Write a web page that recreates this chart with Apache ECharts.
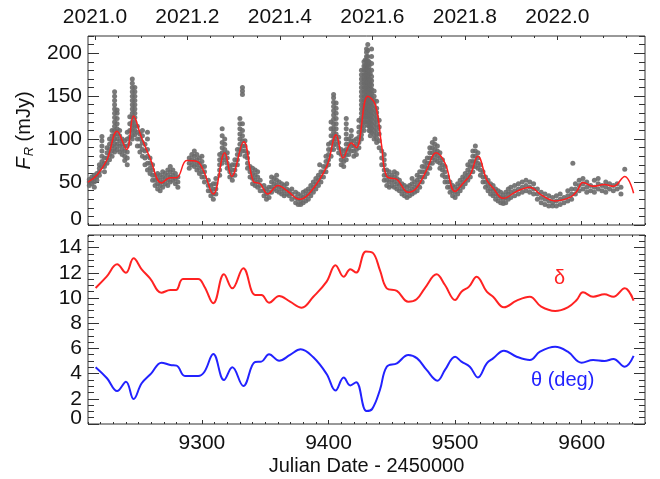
<!DOCTYPE html>
<html><head><meta charset="utf-8">
<script src="https://cdn.jsdelivr.net/npm/echarts@6/dist/echarts.min.js"></script>
<style>html,body{margin:0;padding:0;background:#fff}#c{width:660px;height:479px}</style>
</head><body><div id="c"></div>
<script>
// ---- axes ----
const jdMin = 9210, jdMax = 9650;
const jdTicks = [9300, 9400, 9500, 9600];
const jdTickLabels = ['9300', '9400', '9500', '9600'];
const yearTicks = [2021.0, 2021.2, 2021.4, 2021.6, 2021.8, 2022.0];
const yearTickLabels = ['2021.0', '2021.2', '2021.4', '2021.6', '2021.8', '2022.0'];
const fluxTicks = [0, 50, 100, 150, 200];
const fluxMax = 220;
const polTicks = [0, 2, 4, 6, 8, 10, 12, 14];
const polMax = 15;

// ---- observed R-band flux (JD-2450000, list of F_R in mJy) ----
const obsNights = [
  [9211,[46,50,53]],[9213,[48,52,56]],[9215,[44,50,55,58]],[9217,[52,56,60]],
  [9219,[58,62,66,70]],[9221,[68,74,80,86,92,98,103]],[9223,[62,68,72,78]],
  [9225,[72,78,84,90]],[9227,[76,82,88,94,100]],[9229,[80,86,92,98,104,110]],
  [9231,[85,90,95,100,105,110,115,120,125,130,135,140,145,150,155]],
  [9233,[88,94,100,106,112,118,124,130,134]],[9235,[85,92,98,104,110]],
  [9237,[82,88,94,100]],[9239,[75,80,86,92,98]],[9241,[70,78,85,92,100,108]],
  [9243,[95,102,110,118,126]],
  [9245,[100,105,110,115,120,125,130,135,140,145,150,155,160,165,170]],
  [9247,[105,110,115,120,125,130,135,140,145,150,155,160]],
  [9249,[92,100,108,115]],[9251,[85,92,100,106]],[9253,[80,88,96,104,110]],
  [9255,[70,78,86,94]],[9257,[64,72,80,88,100,108]],[9259,[60,66,72,78]],
  [9261,[52,58,64,70]],[9263,[46,52,58]],[9265,[42,48,54,60]],[9267,[40,46,52,58]],
  [9269,[44,50,56,62]],[9271,[48,54,60]],[9273,[46,52,58,64]],[9275,[50,56,62,68]],
  [9277,[52,58,64]],[9279,[48,54,60]],[9281,[44,50,56]],
  [9290,[66,72,78]],[9292,[70,76,82]],[9294,[68,74,80,86]],[9296,[64,70,76,82]],
  [9298,[60,66,72,78]],[9300,[56,62,68,74,80]],[9302,[50,56,62,68]],
  [9305,[40,46,52]],[9307,[34,40,46]],[9309,[30,36,42,48]],[9311,[36,42,48,54]],
  [9314,[58,64,70,76,82]],[9316,[72,78,84,90,96,104,112]],[9318,[76,82,88,94,100]],
  [9320,[66,72,78,84]],[9322,[56,62,68]],[9324,[52,58,64,70]],[9326,[58,64,70,76]],
  [9328,[70,76,82,88]],[9330,[82,88,94,100,106,112,118,124]],
  [9332,[86,92,98,104,110,118,152,156,160]],[9334,[80,86,92,98]],
  [9336,[66,72,78,84]],[9338,[56,62,68]],[9340,[48,54,60,66]],[9342,[46,52,58,64]],
  [9344,[44,50,56,62]],[9346,[40,46,52]],[9349,[34,40,46]],[9351,[30,36,42]],
  [9353,[32,38,44]],[9355,[38,44,50,56]],[9357,[42,48,54]],[9359,[40,46,52,58]],
  [9361,[38,44,50]],[9363,[36,42,48]],[9365,[34,40,46]],[9367,[36,42,48]],
  [9369,[34,40]],[9371,[30,36,42]],[9374,[26,32,38]],[9376,[24,30,36]],
  [9378,[24,28,34]],[9380,[26,32,38]],[9382,[28,34,40]],[9384,[30,36,42]],
  [9386,[34,40,46]],[9388,[38,44,50]],[9390,[42,48,54]],[9392,[46,52,58]],
  [9393,[70]],[9394,[50,56,62]],[9396,[56,62,68]],[9398,[62,68,74,80]],
  [9400,[70,76,82,88,94]],[9402,[80,88,96,104,112,120]],
  [9404,[88,93,98,103,108,113,118,123,128,133,138,143,148,152]],
  [9406,[94,100,106,112,118,124,130,136,142]],[9408,[84,90,96,102]],
  [9410,[70,76,82,88]],[9412,[68,74,80,86]],[9414,[76,82,88,94,100,106,112,118,124]],
  [9416,[82,88,94,100]],[9418,[86,92,98,104,110]],[9420,[80,86,92,98]],
  [9422,[82,88,94,100]],[9424,[90,96,102,108,114,122]],
  [9426,[100,105,110,115,120,125,130,135,140,145,150,155,160,165,170,175,180]],
  [9428,[110,115,120,125,130,135,140,145,150,155,160,165,170,175,180,185,190]],
  [9429,[120,125,130,135,140,145,150,155,160,165,170,175,180,185,192]],
  [9430,[126,131,136,141,146,151,156,161,166,171,176,181,186,191,196,201,205]],
  [9431,[116,121,126,131,136,141,146,151,156,161,166,171,176,181,186,191,196,203,210]],
  [9432,[110,115,120,125,130,135,140,145,150,155,160,165,170,175,180,185,190]],
  [9433,[104,109,114,119,124,129,134,139,144,149,154,159,164,169,176]],
  [9434,[108,113,118,123,128,133,138,143,148,153,158,163,168,173,180,188,196,205]],
  [9436,[100,105,110,115,120,125,130,135,140,145,150,156]],
  [9438,[96,101,106,111,116,121,126,131,136,144]],[9440,[90,98,106,114,122]],
  [9442,[70,78,86]],[9444,[52,58,64,70,76,82]],[9446,[46,52,58,64]],
  [9448,[44,50,56,62]],[9450,[46,52,58]],[9452,[44,50,56,62]],[9454,[42,48,54,60]],
  [9456,[40,46,52]],[9458,[36,42,48]],[9460,[34,40,46]],[9462,[32,38,44]],
  [9464,[34,40,46]],[9466,[36,42,48,54]],[9468,[38,44,50]],[9470,[40,46,52,58]],
  [9472,[44,50,56,62]],[9474,[50,56,62,68]],[9476,[56,62,68,74]],[9478,[60,66,72,78]],
  [9480,[66,72,78,84,90]],[9482,[72,78,84,90,96]],[9484,[76,82,88,94,100]],
  [9486,[74,80,86,92]],[9488,[66,72,78,84]],[9490,[58,64,70,76]],[9492,[50,56,62,68]],
  [9494,[44,50,56]],[9496,[38,44,50]],[9498,[34,40,46]],[9500,[32,38,44]],
  [9502,[36,42,48]],[9504,[40,46,52]],[9506,[44,50,56]],[9508,[48,54,60]],
  [9510,[52,58,64,70]],[9512,[56,62,68,74]],[9514,[62,68,74,80,86]],
  [9516,[68,74,80,86,92]],[9518,[66,72,78,84]],[9520,[58,64,70]],[9522,[50,56,62]],
  [9524,[44,50,56]],[9526,[40,46,52]],[9528,[36,42,48]],[9530,[34,40,46]],
  [9532,[30,36,42]],[9534,[28,34,40]],[9536,[26,32,38]],[9538,[25,30,35]],
  [9540,[26,32,38]],[9542,[30,36,42]],[9544,[32,38,44]],[9547,[34,40,46]],
  [9550,[36,42,48]],[9553,[38,44,50]],[9556,[40,46,52]],[9559,[38,44,50]],
  [9562,[36,42,48]],[9565,[30,36,42]],[9568,[26,32,38]],[9571,[24,30,36]],
  [9574,[22,28,34]],[9577,[22,26,32]],[9580,[22,28,34]],[9583,[24,30,36]],
  [9586,[26,32]],[9589,[28,34,40]],[9592,[30,36,42]],[9593,[72]],[9595,[36,42,48]],
  [9598,[40,46,52]],[9601,[42,48,54]],[9604,[38,44,50]],[9607,[40,46]],
  [9610,[38,44,52]],[9613,[42,48,54]],[9616,[40,46]],[9619,[38,44,50]],
  [9622,[42,48]],[9625,[40,46]],[9628,[42,48]],[9631,[36,44]],[9634,[65]]
];

// ---- smoothed flux curve (red) ----
const fitCurve = [
  [9210,50],[9217,58],[9225,76],[9233,109],[9240.5,88],[9246,127],[9252,103],[9259,78],
  [9268,49],[9275,55],[9280,55],[9288,75],[9296,74],[9301,64],[9309,36],[9318,84],
  [9323.5,56.5],[9333,97],[9340.5,51],[9346,48],[9352,36],[9360,46],[9368,39],[9377,30],
  [9385,37],[9398.5,68],[9406,105],[9411.5,78],[9418,95.5],[9422,90],[9431,150],[9437,140],
  [9442,92],[9446,56.5],[9454,53],[9463,38],[9469.5,43],[9477.5,64],[9485,84],[9492,72],
  [9500,39],[9506.5,49],[9512,58.5],[9518,80],[9525,52.6],[9530,43],[9538,31],[9548.5,39],
  [9559,44],[9568,35],[9579,28],[9591,32.4],[9596,39],[9601,49.5],[9609,45],[9618,47],
  [9625,45],[9634,56.5],[9641,37]
];

// ---- delta (red) and theta in deg (blue) ----
const deltaCurve = [
  [9216,10.8],[9224.7,11.7],[9233,12.67],[9240,12.0],[9246,13.15],[9252.4,12.28],[9259,11.56],
  [9268,10.42],[9275,10.63],[9279.5,10.63],[9285,11.5],[9297,11.5],[9302,10.9],[9309,9.58],
  [9317.4,11.88],[9324,10.77],[9332.7,12.36],[9342,10.24],[9347,10.24],[9353,9.63],[9361,10.16],
  [9369.6,9.71],[9378.8,9.23],[9388,10.1],[9398.5,11.3],[9405.5,12.6],[9412,11.68],[9417.2,12.28],
  [9421.8,12.02],[9429.5,13.7],[9435,13.58],[9440.6,12.22],[9446,10.77],[9454,10.56],[9463,9.71],
  [9469.6,9.9],[9476,10.77],[9485.4,11.88],[9492,11.03],[9500,9.84],[9505,10.5],[9511,10.9],
  [9517,11.69],[9525,10.5],[9530,10.1],[9538.6,9.26],[9548.6,9.79],[9559,10.1],[9568,9.31],
  [9579,8.97],[9589,9.26],[9596,9.84],[9601,10.45],[9609,10.1],[9618,10.29],[9625,10.1],
  [9634,10.77],[9641,9.79]
];
const thetaCurve = [
  [9216,4.5],[9225,3.63],[9233,2.62],[9240,3.36],[9246,1.98],[9252.4,3.23],[9260,4.02],
  [9268,4.87],[9275,4.68],[9280,4.63],[9286.6,3.81],[9297,3.81],[9302,4.15],[9309,5.56],
  [9317.4,3.49],[9324,4.5],[9332.7,3.02],[9342,4.92],[9347,4.95],[9353,5.53],[9361,5.02],
  [9369.6,5.48],[9378,5.93],[9388,5.29],[9398.5,3.97],[9405.5,2.65],[9412,3.69],[9417.2,3.06],
  [9421.8,3.32],[9430,1.03],[9434.5,1.2],[9440.6,2.7],[9446,4.55],[9454,4.82],[9463,5.48],
  [9470,5.21],[9477.5,4.29],[9486,3.44],[9492,4.29],[9500,5.34],[9505,4.95],[9511.6,4.55],
  [9518,3.7],[9525,4.82],[9530,5.21],[9538.6,5.82],[9548.6,5.34],[9559,5.08],[9567,5.74],
  [9579,6.13],[9589,5.74],[9600,4.87],[9609,5.08],[9618,5.0],[9625,5.16],[9634,4.55],
  [9641,5.4]
];

// ---- build ----
const yearToJD = y => 9215.5 + (y - 2021) * 365.25;
const yearMajorJD = yearTicks.map(yearToJD);
const yearMinorJD = [];
for (let k = 0; k <= 23; k++) yearMinorJD.push(yearToJD(2021 + k * 0.05));

const obsPoints = [];
obsNights.forEach(([jd, fl]) => fl.forEach(f => obsPoints.push([jd, f])));

const FONT = '"Liberation Sans", Arial, Helvetica, sans-serif';
const INK = '#333';
const LBL = 21;

function xAx(grid, pos, opts) {
  return Object.assign({
    type: 'value', gridIndex: grid, position: pos, min: jdMin, max: jdMax,
    axisLine: { show: false, onZero: false }, splitLine: { show: false },
    axisLabel: { show: false }, axisTick: { show: false }
  }, opts);
}
function yAx(grid, pos, max, opts) {
  return Object.assign({
    type: 'value', gridIndex: grid, position: pos, min: 0, max: max,
    axisLine: { show: false, onZero: false }, splitLine: { show: false },
    axisLabel: { show: false }, axisTick: { show: false }
  }, opts);
}
const tickMaj = (vals, len) => ({ show: true, inside: true, length: len, customValues: vals, lineStyle: { color: INK, width: 1 } });
const tickMin = (len) => ({ show: true, inside: true, length: len, lineStyle: { color: INK, width: 1 } });
// labels other than the bottom "0"
const yLabel = (vals) => ({
  show: true, customValues: vals.filter(v => v !== 0), margin: 6, fontSize: LBL, color: '#111', fontFamily: FONT
});
// the "0" label sits slightly raised above the bottom edge, on its own axis
const zeroLabel = () => ({
  show: true, customValues: [0], margin: 6, fontSize: LBL, color: '#111', fontFamily: FONT,
  formatter: () => '{z|0}',
  rich: { z: { fontSize: LBL, color: '#111', fontFamily: FONT, padding: [0, 0, 12, 0] } }
});

const xAxes = [
  // grid 0
  xAx(0, 'bottom', { axisTick: tickMaj(jdTicks, 4) }),                               // 0
  xAx(0, 'bottom', { interval: 10, axisTick: tickMin(2) }),                          // 1
  xAx(0, 'top', { axisTick: tickMaj(yearMajorJD, 4),                                 // 2
    axisLabel: { show: true, customValues: yearMajorJD, margin: 8, fontSize: LBL, color: '#111', fontFamily: FONT,
      formatter: v => { const i = yearMajorJD.findIndex(t => Math.abs(t - v) < 0.01); return i >= 0 ? yearTickLabels[i] : ''; } } }),
  xAx(0, 'top', { axisTick: Object.assign(tickMin(2), { customValues: yearMinorJD }) }), // 3
  // grid 1
  xAx(1, 'bottom', { axisTick: tickMaj(jdTicks, 4),                                  // 4
    axisLabel: { show: true, customValues: jdTicks, margin: 9, fontSize: LBL, color: '#111', fontFamily: FONT,
      formatter: v => { const i = jdTicks.indexOf(v); return i >= 0 ? jdTickLabels[i] : ''; } },
    name: 'Julian Date - 2450000', nameLocation: 'middle', nameGap: 32,
    nameTextStyle: { fontSize: 20, color: '#111', fontFamily: FONT } }),
  xAx(1, 'bottom', { interval: 10, axisTick: tickMin(2) }),                          // 5
  xAx(1, 'top', { axisTick: tickMaj(jdTicks, 4) }),                                  // 6
  xAx(1, 'top', { interval: 10, axisTick: tickMin(2) })                              // 7
];

const yAxes = [
  // grid 0
  yAx(0, 'left', fluxMax, { axisTick: tickMaj(fluxTicks, 11),                        // 0
    axisLabel: yLabel(fluxTicks),
    name: '{f|F}{s|R}{n| (mJy)}', nameLocation: 'middle', nameRotate: 90, nameGap: 52,
    nameTextStyle: { color: '#111', fontFamily: FONT, fontSize: 20,
      rich: { f: { fontStyle: 'italic', fontSize: 20, fontFamily: FONT, color: '#111' },
              s: { fontStyle: 'italic', fontSize: 13, fontFamily: FONT, color: '#111', padding: [10, 0, 0, 1] },
              n: { fontSize: 20, fontFamily: FONT, color: '#111' } } } }),
  yAx(0, 'left', fluxMax, { interval: 10, axisTick: tickMin(6) }),                  // 1
  yAx(0, 'right', fluxMax, { axisTick: tickMaj(fluxTicks, 11) }),                   // 2
  yAx(0, 'right', fluxMax, { interval: 10, axisTick: tickMin(6) }),                 // 3
  // grid 1
  yAx(1, 'left', polMax, { axisTick: tickMaj(polTicks, 11), axisLabel: yLabel(polTicks) }), // 4
  yAx(1, 'left', polMax, { interval: 0.5, axisTick: tickMin(6) }),                  // 5
  yAx(1, 'right', polMax, { axisTick: tickMaj(polTicks, 11) }),                     // 6
  yAx(1, 'right', polMax, { interval: 0.5, axisTick: tickMin(6) }),                 // 7
  // zero labels
  yAx(0, 'left', fluxMax, { axisLabel: zeroLabel() }),                              // 8
  yAx(1, 'left', polMax, { axisLabel: zeroLabel() })                                // 9
];

const chart = echarts.init(document.getElementById('c'), null, { renderer: 'canvas' });
chart.setOption({
  animation: false,
  backgroundColor: '#fff',
  textStyle: { fontFamily: FONT },
  grid: [
    { left: 88, top: 36, width: 557, height: 189, show: true, borderColor: INK, borderWidth: 1, backgroundColor: 'transparent' },
    { left: 88, top: 235, width: 557, height: 189, show: true, borderColor: INK, borderWidth: 1, backgroundColor: 'transparent' }
  ],
  xAxis: xAxes,
  yAxis: yAxes,
  series: [
    { type: 'scatter', xAxisIndex: 0, yAxisIndex: 0, data: obsPoints, symbol: 'circle', symbolSize: 5,
      itemStyle: { color: '#6a6a6a', opacity: 0.9 }, silent: true },
    { type: 'line', xAxisIndex: 0, yAxisIndex: 0, data: fitCurve, smooth: 0.4, showSymbol: false,
      lineStyle: { color: '#ff1e1e', width: 1.5 }, silent: true },
    { type: 'line', xAxisIndex: 4, yAxisIndex: 4, data: deltaCurve, smooth: 0.4, showSymbol: false,
      lineStyle: { color: '#ff2222', width: 2 }, silent: true },
    { type: 'line', xAxisIndex: 4, yAxisIndex: 4, data: thetaCurve, smooth: 0.4, showSymbol: false,
      lineStyle: { color: '#2222ff', width: 2 }, silent: true }
  ],
  graphic: [
    { type: 'text', left: 554, top: 268, style: { text: 'δ', fontSize: 20, fill: '#ff2222', fontFamily: FONT } },
    { type: 'text', left: 531, top: 370, style: { text: 'θ (deg)', fontSize: 20, fill: '#2222ff', fontFamily: FONT } }
  ]
});
</script></body></html>
